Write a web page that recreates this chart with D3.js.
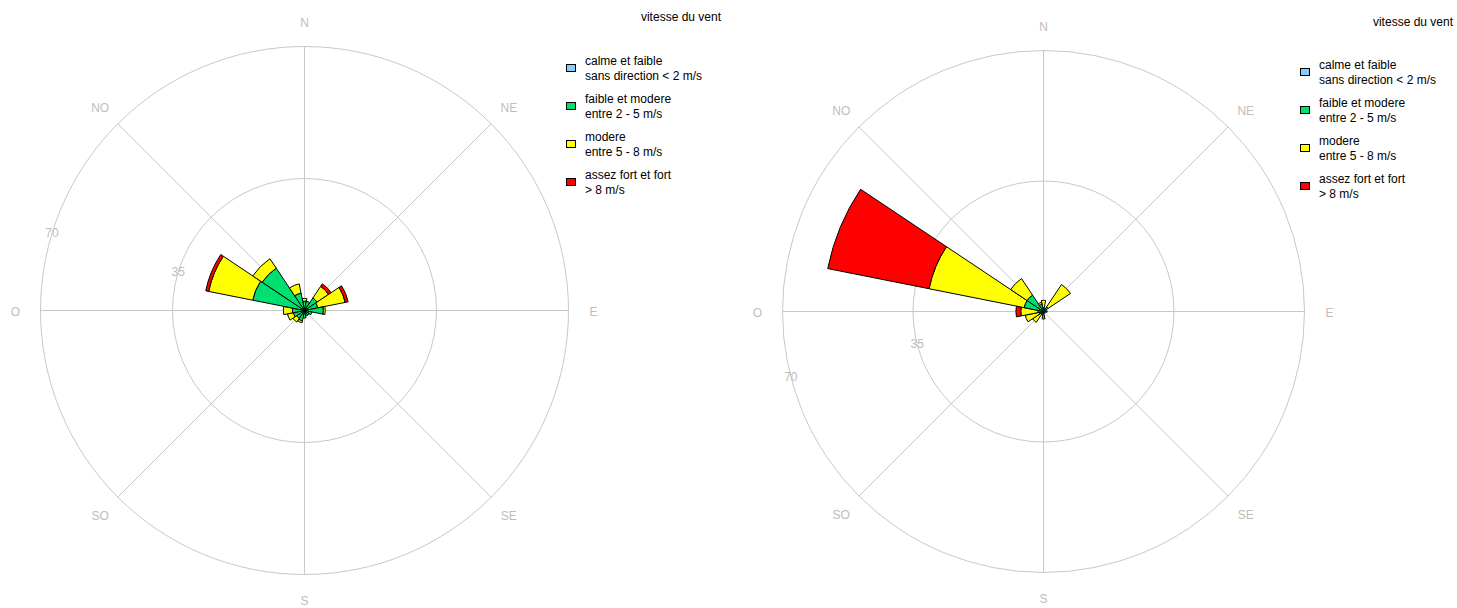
<!DOCTYPE html>
<html>
<head>
<meta charset="utf-8">
<script src="https://cdn.jsdelivr.net/npm/d3@7"></script>
<style>
  html, body { margin: 0; padding: 0; background: #fff; }
  svg { display: block; font-family: "Liberation Sans", Arial, sans-serif; }
</style>
</head>
<body>
<svg id="chart" width="1457" height="608"></svg>
<script>
// 16 wind sectors, clockwise from north
const directions = ["N","NNE","NE","ENE","E","ESE","SE","SSE","S","SSW","SW","WSW","W","WNW","NW","NNW"];

// Compass labels (French) for the 8 main axes
const compassLabels = ["N","NE","E","SE","S","SO","O","NO"];

// Radial tick values
const radialTicks = [35, 70];

// Speed classes
const classNames = ["calme et faible", "faible et modere", "modere", "assez fort et fort"];
const classRanges = ["sans direction < 2 m/s", "entre 2 - 5 m/s", "entre 5 - 8 m/s", "> 8 m/s"];
const classColors = ["#87cefa", "#00e070", "#ffff00", "#ff0000"];

// First rose: frequency per sector for each speed class
const leftModerate = [2.5, 2.5, 4.0, 3.6, 5.0, 2.0, 1.5, 1.5, 2.0, 2.8, 2.5, 3.0, 3.2, 14.0, 13.5, 4.7];
const leftMedium   = [0.7, 0,   3.7, 7.4, 0.5, 0,   0,   0,   0,   0.5, 1.2, 1.6, 2.4, 11.9, 3.0, 2.5];
const leftStrong   = [0,   0,   0.8, 0.8, 0,   0,   0,   0,   0,   0,   0,   0,   0,   0.8,  0,   0];

// Second rose
const rightModerate = [1.0, 0.8, 1.5, 0.5, 1.0, 0.5, 0.5, 0.5, 2.0, 1.0, 1.0, 1.2, 1.5, 5.3, 5.3, 2.0];
const rightMedium   = [2.0, 0,   7.2, 0,   0,   0,   0,   0,   0,   0,   2.5, 3.8, 4.6, 26.0, 5.3, 0.5];
const rightStrong   = [0,   0,   0,   0,   0,   0,   0,   0,   0,   0,   0,   0,   1.3, 27.7, 0,   0];

const svg = d3.select("#chart");

function drawRose(opt) {
  const g = svg.append("g").attr("transform", `translate(${opt.cx},${opt.cy})`);
  const r = d3.scaleLinear().domain([0, 70]).range([0, opt.radius]);
  const grid = "#c8c8c8";
  const labelColor = "#bdbdbd";

  // grid circles
  g.selectAll("circle.grid").data(radialTicks).join("circle")
    .attr("r", d => r(d)).attr("fill", "none").attr("stroke", grid).attr("stroke-width", 1);

  // spokes for the 8 main directions
  const spokeAngles = d3.range(8).map(i => i * Math.PI / 4);
  g.selectAll("line.spoke").data(spokeAngles).join("line")
    .attr("x1", 0).attr("y1", 0)
    .attr("x2", a => r(70) * Math.sin(a))
    .attr("y2", a => -r(70) * Math.cos(a))
    .attr("stroke", grid).attr("stroke-width", 1);

  // compass labels
  g.selectAll("text.compass").data(compassLabels).join("text")
    .attr("x", (d, i) => opt.labelRadius * Math.sin(i * Math.PI / 4))
    .attr("y", (d, i) => -opt.labelRadius * Math.cos(i * Math.PI / 4) + opt.labelDy)
    .attr("text-anchor", "middle").attr("dominant-baseline", "central")
    .attr("font-size", 12).attr("fill", labelColor).text(d => d);

  // radial tick labels
  const ta = opt.tickAngle * Math.PI / 180;
  g.selectAll("text.tick").data(radialTicks).join("text")
    .attr("x", d => r(d) * Math.sin(ta))
    .attr("y", d => -r(d) * Math.cos(ta))
    .attr("text-anchor", "middle").attr("dominant-baseline", "central")
    .attr("font-size", 12).attr("fill", labelColor).text(d => d);

  // stacked sectors
  const series = [opt.moderate, opt.medium, opt.strong];
  const half = Math.PI / 16;
  const arc = d3.arc();
  const segs = [];
  directions.forEach((dir, i) => {
    let base = 0;
    series.forEach((s, k) => {
      const v = s[i];
      if (v > 0) {
        segs.push({ dir, k: k + 1, inner: base, outer: base + v, angle: i * Math.PI / 8 });
      }
      base += v;
    });
  });
  g.selectAll("path.sector").data(segs).join("path")
    .attr("d", d => arc({
      innerRadius: r(d.inner), outerRadius: r(d.outer),
      startAngle: d.angle - half, endAngle: d.angle + half
    }))
    .attr("fill", d => classColors[d.k])
    .attr("stroke", "#000").attr("stroke-width", 1).attr("stroke-linejoin", "round");

  // legend
  const lg = svg.append("g");
  lg.append("text").attr("x", opt.titleX).attr("y", opt.titleY)
    .attr("text-anchor", "end").attr("dominant-baseline", "central")
    .attr("font-size", 12).attr("fill", "#000").text("vitesse du vent");
  classNames.forEach((name, k) => {
    const y0 = opt.legendY + k * 38;
    lg.append("rect").attr("x", opt.legendX + 0.5).attr("y", y0 - 3.5)
      .attr("width", 9).attr("height", 7)
      .attr("fill", classColors[k]).attr("stroke", "#000").attr("stroke-width", 1);
    lg.append("text").attr("x", opt.legendX + 19).attr("y", y0 - 7)
      .attr("dominant-baseline", "central").attr("font-size", 12).text(name);
    lg.append("text").attr("x", opt.legendX + 19).attr("y", y0 + 8)
      .attr("dominant-baseline", "central").attr("font-size", 12).text(classRanges[k]);
  });
}

drawRose({
  cx: 304.5, cy: 310.5, radius: 264, labelRadius: 289, labelDy: 1.5, tickAngle: 287,
  moderate: leftModerate, medium: leftMedium, strong: leftStrong,
  titleX: 721, titleY: 17, legendX: 566, legendY: 68
});
drawRose({
  cx: 1043.5, cy: 311.5, radius: 261, labelRadius: 286, labelDy: 1.5, tickAngle: 255.5,
  moderate: rightModerate, medium: rightMedium, strong: rightStrong,
  titleX: 1453, titleY: 22, legendX: 1300, legendY: 72
});
</script>
</body>
</html>
